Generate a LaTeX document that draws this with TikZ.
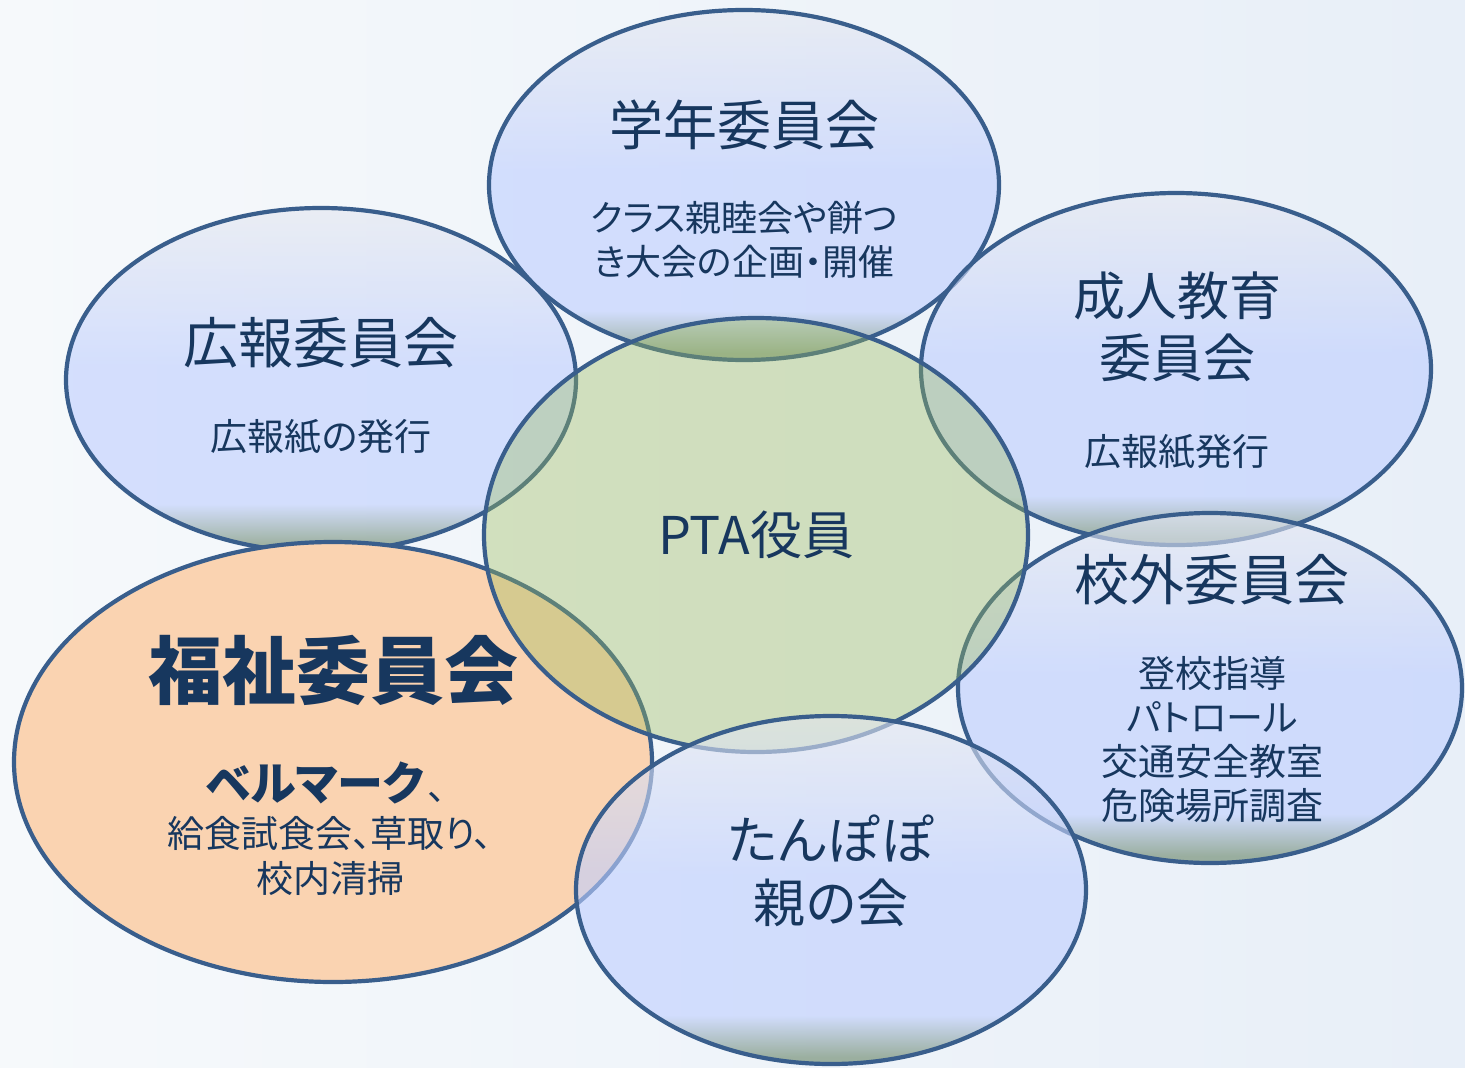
\documentclass[tikz,border=0pt]{standalone}
\usepackage{fontspec}
\newfontfamily\jp[RawFeature=+palt]{Noto Sans CJK JP}
\usetikzlibrary{shapes.geometric}
\definecolor{bord}{HTML}{395E8C}
\definecolor{txt}{HTML}{17375E}
\definecolor{bubT}{RGB}{228,231,240}
\definecolor{bubM}{RGB}{190,206,255}
\definecolor{bubD}{RGB}{100,130,100}
\definecolor{orng}{HTML}{FAD3B1}
\definecolor{grn}{HTML}{9BBB59}
\definecolor{bgL}{HTML}{F6F9FB}
\definecolor{bgR}{HTML}{E8EFF8}
\pgfdeclareverticalshading{bubble}{100bp}{color(0bp)=(bubD); color(26bp)=(bubD); color(32bp)=(bubM); color(52bp)=(bubM); color(75bp)=(bubT); color(100bp)=(bubT)}
\tikzset{
  oval/.style={ellipse, draw=bord, line width=4.2pt, inner sep=0pt},
  blueoval/.style={oval, shade, shading=bubble, fill opacity=0.6},
  lbl/.style={text=txt, align=center, inner sep=0pt},
  fs/.style 2 args={font=\jp\fontsize{#1}{#2}\selectfont},
  fsb/.style 2 args={font=\jp\fontsize{#1}{#2}\selectfont\bfseries},
}
\begin{document}
\begin{tikzpicture}[x=1pt,y=-1pt]
\fill[left color=bgL, right color=bgR] (0,0) rectangle (1465,1068);
\useasboundingbox (0,0) rectangle (1465,1068);
% ellipses
\node[blueoval, minimum width=510pt, minimum height=344pt] (koho) at (321,380) {};
\node[blueoval, minimum width=510pt, minimum height=350pt] (gakunen) at (744,185) {};
\node[blueoval, minimum width=510pt, minimum height=352pt] (seijin) at (1176,369) {};
\node[blueoval, minimum width=504pt, minimum height=350pt] (kogai) at (1210,688) {};
\node[oval, fill=orng, minimum width=638pt, minimum height=440pt] (fukushi) at (333,762) {};
\node[oval, fill=grn, fill opacity=0.37, minimum width=544pt, minimum height=434pt] (pta) at (756,535) {};
\node[blueoval, minimum width=510pt, minimum height=348pt] (tanpopo) at (831,890) {};
% texts
\node[lbl, fs={54}{64}] (gakunenT) at (744,125) {学年委員会};
\node[lbl, fs={36}{44}] (gakunenD) at (744,240) {クラス親睦会や餅つ\\き大会の企画・開催};
\node[lbl, fs={55}{64}] (kohoT) at (321,343) {広報委員会};
\node[lbl, fs={37}{44}] (kohoD) at (321,437) {広報紙の発行};
\node[lbl, fs={52}{62}] (seijinT) at (1177,327) {成人教育\\委員会};
\node[lbl, fs={37}{44}] (seijinD) at (1177,452) {広報紙発行};
\node[lbl, fs={52}{62}] (ptaT) at (756,535) {PTA役員};
\node[lbl, fs={55}{64}] (kogaiT) at (1212,580) {校外委員会};
\node[lbl, fs={37}{44}] (kogaiD) at (1212,740) {登校指導\\パトロール\\交通安全教室\\危険場所調査};
\node[lbl, fsb={74}{84}] (fukushiT) at (333,670) {福祉委員会};
\node[lbl, fsb={46}{54}] (fukushiB) at (326,783) {ベルマーク\hspace{4pt}{\mdseries\fontsize{37}{45}\selectfont 、}};
\node[lbl, fs={37}{45}] (fukushiD) at (330,855.5) {給食試食会、草取り、\\校内清掃};
\node[lbl, fs={52}{63}] (tanpopoT) at (831,871) {たんぽぽ\\親の会};
\end{tikzpicture}
\end{document}
